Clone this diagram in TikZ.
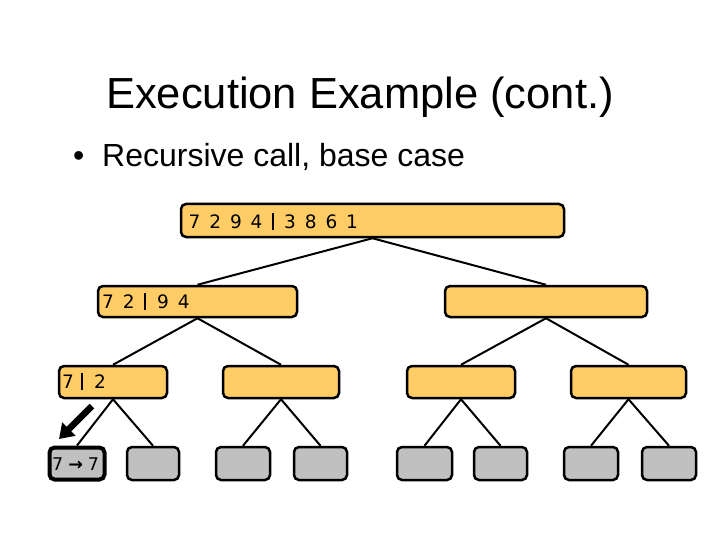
\documentclass[tikz,border=0pt]{standalone}
\usepackage{fontspec}
\usetikzlibrary{arrows.meta}
\setmainfont{Liberation Sans}
\newfontfamily\boxfont{DejaVu Sans}
\newfontfamily\leaffont{DejaVu Sans}
\newcommand{\dsp}{\hspace{8.9pt}}
\newcommand{\lsp}{\hspace{5pt}}
\begin{document}
\begin{tikzpicture}[x=1pt,y=-1pt,
  orangebox/.style={draw=black,line width=2.5pt,rounded corners=5pt,fill=boxorange,inner sep=0pt},
  graybox/.style={draw=black,line width=2.5pt,rounded corners=5pt,fill=boxgray,inner sep=0pt},
  link/.style={line width=2pt,black},
  boxtext/.style={anchor=base west,inner sep=0pt,font=\boxfont\fontsize{18.5}{22}\selectfont},
  bar/.style={line width=2.2pt}]
\definecolor{boxorange}{RGB}{255,204,102}
\definecolor{boxgray}{RGB}{192,192,192}
\useasboundingbox (0,0) rectangle (720,540);
\fill[white] (0,0) rectangle (720,540);
% title and bullet
\node[anchor=base,inner sep=0pt,font=\fontsize{43.5}{50}\selectfont] (title) at (360,109) {Execution Example (cont.)};
\node[anchor=base west,inner sep=0pt,font=\fontsize{32}{38}\selectfont] (bul) at (73,167) {•};
\node[anchor=base west,inner sep=0pt,font=\fontsize{32}{38}\selectfont] (sub) at (102,167) {Recursive call, base case};
% boxes
\node[orangebox,minimum width=383pt,minimum height=33pt] (r) at (372.5,220.5) {};
\node[orangebox,minimum width=199pt,minimum height=31pt] (a) at (197.5,301.5) {};
\node[orangebox,minimum width=202pt,minimum height=31pt] (b) at (546,301.5) {};
\node[orangebox,minimum width=108pt,minimum height=32pt] (aa) at (113,382) {};
\node[orangebox,minimum width=116pt,minimum height=32pt] (ab) at (281,382) {};
\node[orangebox,minimum width=108pt,minimum height=32pt] (ba) at (461,382) {};
\node[orangebox,minimum width=115pt,minimum height=32pt] (bb) at (628.5,382) {};
\node[graybox,line width=4pt,minimum width=55pt,minimum height=32pt] (l1) at (77,463.5) {};
\node[graybox,minimum width=52pt,minimum height=33pt] (l2) at (153,463.5) {};
\node[graybox,minimum width=54pt,minimum height=33pt] (l3) at (243,463.5) {};
\node[graybox,minimum width=53pt,minimum height=33pt] (l4) at (320.5,463.5) {};
\node[graybox,minimum width=55pt,minimum height=33pt] (l5) at (424.5,463.5) {};
\node[graybox,minimum width=53pt,minimum height=33pt] (l6) at (500.5,463.5) {};
\node[graybox,minimum width=54pt,minimum height=33pt] (l7) at (591,463.5) {};
\node[graybox,minimum width=54pt,minimum height=33pt] (l8) at (669,463.5) {};
% links
\draw[link] (r.south) -- (a.north);
\draw[link] (r.south) -- (b.north);
\draw[link] (a.south) -- (aa.north);
\draw[link] (a.south) -- (ab.north);
\draw[link] (b.south) -- (ba.north);
\draw[link] (b.south) -- (bb.north);
\draw[link] (aa.south) -- (l1.north);
\draw[link] (aa.south) -- (l2.north);
\draw[link] (ab.south) -- (l3.north);
\draw[link] (ab.south) -- (l4.north);
\draw[link] (ba.south) -- (l5.north);
\draw[link] (ba.south) -- (l6.north);
\draw[link] (bb.south) -- (l7.north);
\draw[link] (bb.south) -- (l8.north);
% texts
\node[boxtext] (rt1) at (188.5,228.5) {7\dsp 2\dsp 9\dsp 4};
\coordinate (rbar) at (273,221.5);
\draw[bar] ([yshift=-8.5pt]rbar) -- ([yshift=8.5pt]rbar);
\node[boxtext] (rt2) at (284,228.5) {3\dsp 8\dsp 6\dsp 1};
\node[boxtext] (at1) at (102,308.5) {7\dsp 2};
\coordinate (abar) at (145,301.5);
\draw[bar] ([yshift=-8.5pt]abar) -- ([yshift=8.5pt]abar);
\node[boxtext] (at2) at (157,308.5) {9\dsp 4};
\node[boxtext] (aat1) at (62,388.5) {7};
\coordinate (aabar) at (82,381.5);
\draw[bar] ([yshift=-8.5pt]aabar) -- ([yshift=8.5pt]aabar);
\node[boxtext] (aat2) at (94,388.5) {2};
\node[anchor=base west,inner sep=0pt,font=\leaffont\fontsize{17.5}{20}\selectfont] (lt) at (52,470) {7\lsp{\bfseries →}\lsp 7};
% arrow
\coordinate (arrtail) at (92,406);
\coordinate (arrtip) at (59,439);
\draw[line width=6.5pt,-{Triangle[width=18pt,length=14pt]}] (arrtail) -- (arrtip);
\end{tikzpicture}
\end{document}
